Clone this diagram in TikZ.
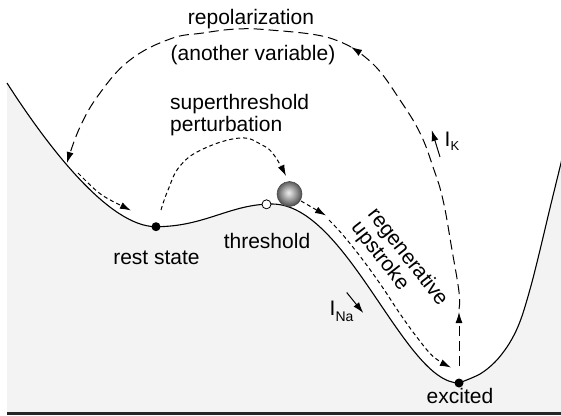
\documentclass[tikz,border=0pt]{standalone}
\usepackage{fontspec}
\setmainfont{Liberation Sans}
\usetikzlibrary{arrows.meta}
\definecolor{bggray}{RGB}{243,243,243}
\pgfdeclareradialshading{ballshade}{\pgfpoint{-2bp}{3bp}}{color(0bp)=(black!8); color(5bp)=(black!18); color(18bp)=(black!50); color(25bp)=(black!68); color(50bp)=(black!68)}
\newcommand\landpath{(7,83) .. controls (50,150) and (110,226.7) .. (156,226.7)
  .. controls (205,226.7) and (230,204) .. (272,204)
  .. controls (347,204) and (404,383) .. (459,383)
  -- plot[smooth, tension=0.55] coordinates {(459,383) (480,374) (495,362) (507,347) (516,331) (523,313) (532,282) (540,250) (550,208) (561,163) (566,142)}}
\begin{document}
\begin{tikzpicture}[x=1pt,y=-1pt,
  curve/.style={line width=1.1pt},
  tipstyle/.style={-{Latex[length=11pt,width=7pt]}},
  longdash/.style={line width=1pt, dash pattern=on 10pt off 5pt, tipstyle},
  shortdash/.style={line width=1pt, dash pattern=on 4pt off 3pt, tipstyle},
  solidarrow/.style={line width=1pt, tipstyle},
  lbl/.style={font=\fontsize{21}{22}\selectfont, inner sep=0pt},
  dot/.style={circle, fill=black, minimum size=9pt, inner sep=0pt},
  odot/.style={circle, draw=black, fill=white, line width=0.8pt, minimum size=9pt, inner sep=0pt}
]
\useasboundingbox (0,0) rectangle (561,415);
\begin{scope}
  \clip (0,0) rectangle (561,415);
  \fill[bggray] \landpath -- (566,412) -- (7,412) -- cycle;
  \draw[curve] \landpath;
\end{scope}
\fill[black!85] (7,412.3) rectangle (561,415);

% state markers
\node[dot] (rest) at (156,226.7) {};
\node[odot] (thr) at (266.5,204.3) {};
\node[dot] (exc) at (459,383) {};
\node[circle, minimum size=25pt, inner sep=0pt, shade, shading=ballshade, draw=black!70, line width=0.6pt] (ball) at (289.5,194) {};

% labels
\node[lbl, anchor=base] (repol) at (251,24) {repolarization};
\node[lbl, anchor=base] (another) at (253,60) {(another variable)};
\node[lbl, anchor=north west, align=left] (super) at (170,94.5) {superthreshold\\perturbation};
\node[lbl, anchor=base] (restlbl) at (156.5,264) {rest state};
\node[lbl, anchor=base] (thrlbl) at (267,248) {threshold};
\node[lbl, anchor=base] (exclbl) at (460,403) {excited};
\node[lbl, rotate=-52, align=left, font=\fontsize{21}{21}\selectfont] (regen) at (399,264) {regenerative\\upstroke};
\node[lbl, anchor=base west] (ik) at (444.5,146.7) {I\raisebox{-4pt}{\fontsize{13}{13}\selectfont K}};
\node[lbl, anchor=base west] (ina) at (329.5,315) {I\raisebox{-6.5pt}{\fontsize{14}{14}\selectfont Na}};

% current arrows
\coordinate (ikA) at (440,157);
\coordinate (ikB) at (431.7,130);
\draw[solidarrow] (ikA) -- (ikB);
\coordinate (inaA) at (346.7,292.5);
\coordinate (inaB) at (363.3,313);
\draw[solidarrow] (inaA) -- (inaB);

% repolarization path
\coordinate (excTop) at (459,366);
\coordinate (upTip) at (459,312);
\draw[longdash] (excTop) -- (upTip);
\draw[longdash] plot[smooth, tension=0.7] coordinates {(459,309) (459,292) (452,250) (443,200) (433,167) (420,133) (400,100) (376,67) (351,47)};
\draw[longdash] plot[smooth, tension=0.7] coordinates {(351,47) (322,36) (270,30) (237,29) (203,33) (170,39) (130,60) (100,93) (80,127) (67,163)};

% relaxation to rest
\coordinate (slopeA) at (78,173);
\coordinate (restIn) at (131,210.5);
\draw[shortdash] (slopeA) .. controls (100,195) .. (restIn);

% superthreshold perturbation
\draw[shortdash] plot[smooth, tension=0.7] coordinates {(161,210) (168,190) (180,166) (203,149) (240,138) (262,145) (274,155) (286,176)};

% regenerative upstroke
\coordinate (ballOut) at (301,201);
\coordinate (regTip) at (326,215.5);
\draw[shortdash] (ballOut) -- (regTip);
\draw[shortdash] plot[smooth, tension=0.6] coordinates {(329,220) (343.3,235.4) (363.3,260.5) (382.5,287.3) (400,313.8) (417.2,337.6) (433.4,356.7) (451,367.5)};
\end{tikzpicture}
\end{document}
